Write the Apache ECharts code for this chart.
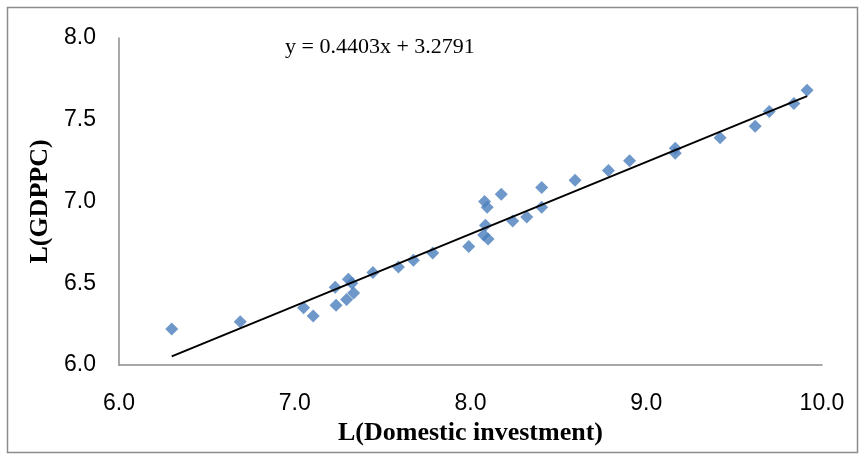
<!DOCTYPE html>
<html>
<head>
<meta charset="utf-8">
<script src="https://cdn.jsdelivr.net/npm/echarts@6/dist/echarts.min.js"></script>
<style>html,body{margin:0;padding:0;background:#fff}#c{width:860px;height:455px}</style>
</head>
<body>
<div id="c"></div>
<script>
// L(Domestic investment)
var xValues = [6.30, 6.69, 7.05, 7.105, 7.23, 7.235, 7.295, 7.305, 7.325, 7.335, 7.445, 7.59, 7.675, 7.785, 7.99,
  8.08, 8.095, 8.175, 8.085, 8.075, 8.10, 8.24, 8.32, 8.405, 8.405, 8.595, 8.785, 8.905, 9.165, 9.165,
  9.42, 9.62, 9.70, 9.84, 9.915];
// L(GDPPC)
var yValues = [6.22, 6.265, 6.35, 6.30, 6.475, 6.365, 6.40, 6.525, 6.50, 6.44, 6.565, 6.60, 6.64, 6.685, 6.725,
  7.00, 6.965, 7.045, 6.855, 6.795, 6.77, 6.88, 6.905, 7.085, 6.965, 7.13, 7.19, 7.25, 7.325, 7.295,
  7.39, 7.46, 7.55, 7.60, 7.68];
var slope = 0.4403;
var intercept = 3.2791;
var equationText = 'y = 0.4403x + 3.2791';
var xTitle = 'L(Domestic investment)';
var yTitle = 'L(GDPPC)';

var points = xValues.map(function (x, i) { return [x, yValues[i]]; });
var xMin = Math.min.apply(null, xValues), xMax = Math.max.apply(null, xValues);
var trend = [[xMin, slope * xMin + intercept], [xMax, slope * xMax + intercept]];

var chart = echarts.init(document.getElementById('c'), null, {renderer: 'canvas'});
var axisLine = {show: true, lineStyle: {color: '#8c8c8c', width: 1.5}};
var labelStyle = {color: '#000', fontFamily: 'Liberation Sans', fontSize: 23};
chart.setOption({
  animation: false,
  backgroundColor: '#fff',
  grid: {left: 119, top: 38, right: 38, bottom: 90, containLabel: false},
  xAxis: {
    type: 'value', min: 6, max: 10, interval: 1,
    axisLine: axisLine, axisTick: {show: false}, splitLine: {show: false},
    axisLabel: Object.assign({margin: 27, formatter: function (v) { return v.toFixed(1); }}, labelStyle),
    name: xTitle, nameLocation: 'middle', nameGap: 53,
    nameTextStyle: {fontFamily: 'Liberation Serif', fontWeight: 'bold', fontSize: 26, color: '#000'}
  },
  yAxis: {
    type: 'value', min: 6, max: 8, interval: 0.5,
    axisLine: axisLine, axisTick: {show: false}, splitLine: {show: false},
    axisLabel: Object.assign({margin: 23, formatter: function (v) { return v.toFixed(1); }}, labelStyle),
    name: yTitle, nameLocation: 'middle', nameGap: 66, nameRotate: 90,
    nameTextStyle: {fontFamily: 'Liberation Serif', fontWeight: 'bold', fontSize: 26, color: '#000'}
  },
  graphic: [
    {type: 'rect', left: 5, top: 5, shape: {width: 850, height: 445}, style: {fill: 'none', stroke: '#8c8c8c', lineWidth: 1.5}, silent: true},
    {type: 'text', left: 285, top: 36, style: {text: equationText, font: '22px "Liberation Serif"', fill: '#000'}}
  ],
  series: [
    {type: 'scatter', data: points, symbol: 'diamond', symbolSize: 13,
     itemStyle: {color: '#4a7ebb'}, z: 2},
    {type: 'line', data: trend, showSymbol: false, symbol: 'none',
     lineStyle: {color: '#000', width: 2}, z: 3}
  ]
});
</script>
</body>
</html>
